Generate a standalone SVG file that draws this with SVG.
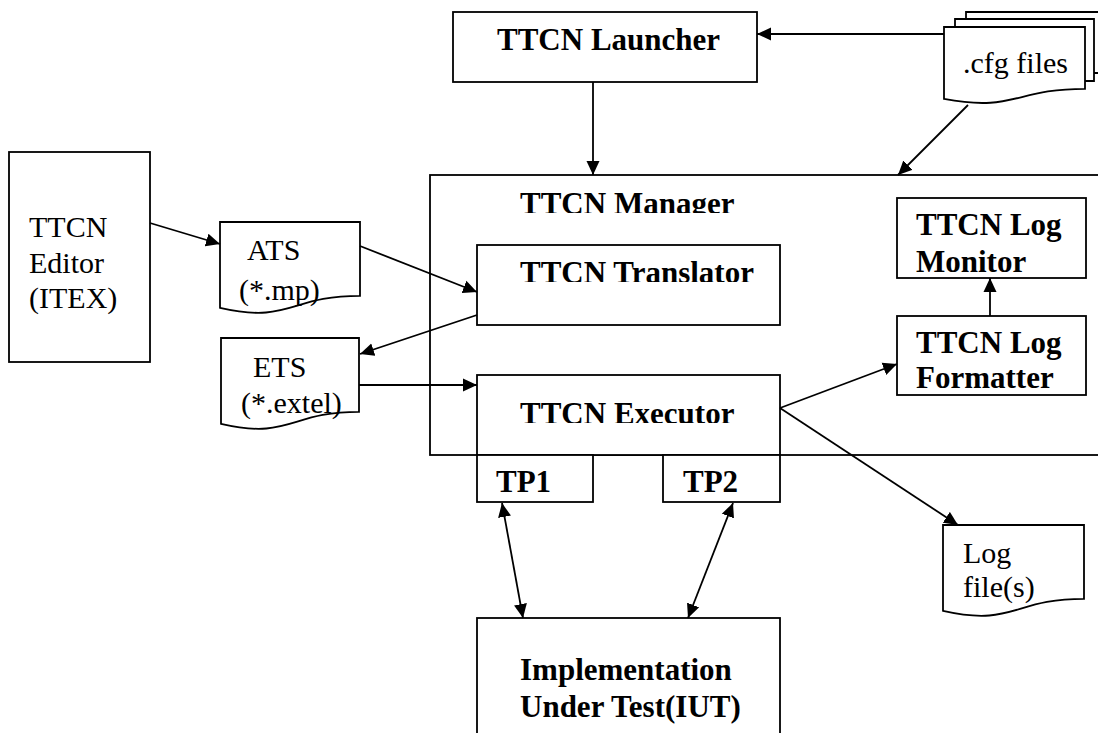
<svg xmlns="http://www.w3.org/2000/svg" width="1098" height="733" viewBox="0 0 1098 733">
  <style>
    .box { fill: #fff; stroke: #000; stroke-width: 1.8; }
    .doc { fill: #fff; stroke: #000; stroke-width: 1.8; stroke-linejoin: miter; }
    .edge { fill: none; stroke: #000; stroke-width: 1.8; }
    .t { font-family: "Liberation Serif", "Times New Roman", serif; font-size: 31px; fill: #000; }
    .tn { font-family: "Liberation Serif", "Times New Roman", serif; font-size: 30px; fill: #000; }
    .b { font-weight: bold; }
  </style>
  <defs>
    <marker id="arrow" viewBox="0 0 14 14" refX="14" refY="7" markerWidth="14" markerHeight="14" markerUnits="userSpaceOnUse" orient="auto">
      <path d="M0,0.5 L14,7 L0,13.5 Z" fill="#000"/>
    </marker>
    <marker id="arrowStart" viewBox="0 0 14 14" refX="0" refY="7" markerWidth="14" markerHeight="14" markerUnits="userSpaceOnUse" orient="auto">
      <path d="M14,0.5 L0,7 L14,13.5 Z" fill="#000"/>
    </marker>
    <!-- title text frames crop the bottom of their labels -->
    <clipPath id="clipManager"><rect x="430" y="175" width="400" height="38"/></clipPath>
    <clipPath id="clipTranslator"><rect x="477" y="245" width="300" height="37"/></clipPath>
    <clipPath id="clipExecutor"><rect x="477" y="375" width="300" height="48"/></clipPath>
  </defs>

  <!-- TTCN Manager container -->
  <g id="manager">
    <rect class="box" x="430" y="175" width="690" height="280"/>
    <text class="t b" x="520" y="214" clip-path="url(#clipManager)">TTCN Manager</text>
  </g>

  <g id="launcher">
    <rect class="box" x="453" y="12" width="304" height="70"/>
    <text class="t b" x="497" y="50">TTCN Launcher</text>
  </g>

  <!-- stack of configuration documents -->
  <g id="cfg-files">
    <path class="doc" d="M966,19 V12 H1110 V73 H1094"/>
    <path class="doc" d="M955,27 V19 H1094 V81 H1085"/>
    <path class="doc" d="M944,27 H1085 V88.8 C1014.5,88.8 1014.5,112.3 944,98.9 Z"/>
    <text class="tn" x="963" y="73">.cfg files</text>
  </g>

  <g id="editor">
    <rect class="box" x="9" y="152" width="141" height="210"/>
    <text class="tn" x="29" y="237">TTCN</text>
    <text class="tn" x="29" y="273">Editor</text>
    <text class="tn" x="29" y="308">(ITEX)</text>
  </g>

  <g id="ats">
    <path class="doc" d="M220,222 H360 V295.8 C290,295.8 290,323.9 220,307.9 Z"/>
    <text class="tn" x="247" y="260">ATS</text>
    <text class="tn" x="239" y="300">(*.mp)</text>
  </g>

  <g id="ets">
    <path class="doc" d="M221,338 H359 V411.8 C290,411.8 290,439.9 221,423.9 Z"/>
    <text class="tn" x="253" y="377">ETS</text>
    <text class="tn" x="241" y="413">(*.extel)</text>
  </g>

  <g id="translator">
    <rect class="box" x="477" y="245" width="303" height="80"/>
    <text class="t b" x="520" y="283" clip-path="url(#clipTranslator)">TTCN Translator</text>
  </g>

  <g id="executor">
    <rect class="box" x="477" y="375" width="303" height="80"/>
    <text class="t b" x="520" y="424" clip-path="url(#clipExecutor)">TTCN Executor</text>
  </g>

  <g id="tp1">
    <rect class="box" x="477" y="455" width="116" height="47"/>
    <text class="t b" x="496" y="492">TP1</text>
  </g>

  <g id="tp2">
    <rect class="box" x="663" y="455" width="117" height="47"/>
    <text class="t b" x="683" y="492">TP2</text>
  </g>

  <g id="log-monitor">
    <rect class="box" x="897" y="198" width="189" height="80"/>
    <text class="t b" x="916" y="235">TTCN Log</text>
    <text class="t b" x="916" y="272">Monitor</text>
  </g>

  <g id="log-formatter">
    <rect class="box" x="897" y="316" width="189" height="79"/>
    <text class="t b" x="916" y="353">TTCN Log</text>
    <text class="t b" x="916" y="388">Formatter</text>
  </g>

  <g id="log-files">
    <path class="doc" d="M943,525 H1084 V598.8 C1013.5,598.8 1013.5,626.9 943,610.9 Z"/>
    <text class="tn" x="963" y="563">Log</text>
    <text class="tn" x="963" y="597">file(s)</text>
  </g>

  <g id="iut">
    <rect class="box" x="477" y="618" width="303" height="130"/>
    <text class="t b" x="520" y="680">Implementation</text>
    <text class="t b" x="520" y="717">Under Test(IUT)</text>
  </g>

  <g id="connectors">
    <line class="edge" x1="593" y1="82" x2="593" y2="175" marker-end="url(#arrow)"/>
    <line class="edge" x1="944" y1="34" x2="757" y2="34" marker-end="url(#arrow)"/>
    <line class="edge" x1="968" y1="105" x2="898" y2="175" marker-end="url(#arrow)"/>
    <line class="edge" x1="150" y1="223" x2="220" y2="244" marker-end="url(#arrow)"/>
    <line class="edge" x1="360" y1="246" x2="477" y2="292" marker-end="url(#arrow)"/>
    <line class="edge" x1="477" y1="315" x2="360" y2="354" marker-end="url(#arrow)"/>
    <line class="edge" x1="359" y1="385" x2="477" y2="385" marker-end="url(#arrow)"/>
    <line class="edge" x1="780" y1="408" x2="897" y2="364" marker-end="url(#arrow)"/>
    <line class="edge" x1="780" y1="408" x2="958" y2="525" marker-end="url(#arrow)"/>
    <line class="edge" x1="990" y1="316" x2="990" y2="278" marker-end="url(#arrow)"/>
    <line class="edge" x1="502" y1="503" x2="523" y2="618" marker-start="url(#arrowStart)" marker-end="url(#arrow)"/>
    <line class="edge" x1="733" y1="503" x2="688" y2="618" marker-start="url(#arrowStart)" marker-end="url(#arrow)"/>
  </g>
</svg>
